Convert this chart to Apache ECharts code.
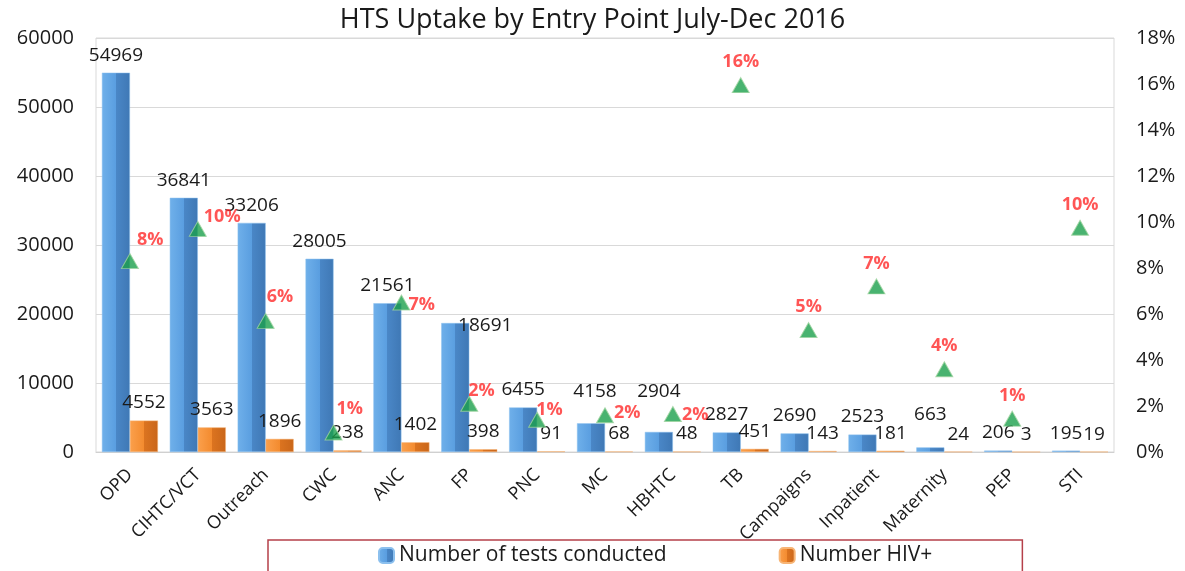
<!DOCTYPE html>
<html>
<head>
<meta charset="utf-8">
<script src="https://cdn.jsdelivr.net/npm/echarts@6/dist/echarts.min.js"></script>
<style>
html,body{margin:0;padding:0;background:#fff;}
#chart{width:1185px;height:571px;}
</style>
</head>
<body>
<div id="chart"></div>
<script>
var categories = ['OPD','CIHTC/VCT','Outreach','CWC','ANC','FP','PNC','MC','HBHTC','TB','Campaigns','Inpatient','Maternity','PEP','STI'];
var testsConducted = [54969, 36841, 33206, 28005, 21561, 18691, 6455, 4158, 2904, 2827, 2690, 2523, 663, 206, 195];
var numberHivPos = [4552, 3563, 1896, 238, 1402, 398, 91, 68, 48, 451, 143, 181, 24, 3, 19];
var positivityPct = [8.3, 9.7, 5.7, 0.85, 6.5, 2.1, 1.4, 1.6, 1.65, 15.95, 5.3, 7.2, 3.6, 1.45, 9.75];
var leftTicks = {min: 0, max: 60000, interval: 10000};
var rightTicks = {min: 0, max: 18, interval: 2};

var FONT = "'Open Sans', 'Noto Sans', sans-serif";

// label placement for the percentage markers (layout only): [dx, dy] from 'right', or null = 'top'
var pctNudge = [[-2, -21], [-3, -12], [-8, -24], [-6, -24], [-2, 2], [-10, -13], [-10, -10], [0, -2], [0, 1],
                null, null, null, null, null, null];
// manual label nudges for the tests-conducted labels (layout only), index -> [dx, dy]
var testsLabelNudge = {5: [30, 20], 7: [4, -14], 8: [0, -23], 12: [0, -15]};

function pctData() {
  return positivityPct.map(function (v, i) {
    var n = pctNudge[i];
    var lab = n ? {position: 'right', distance: 0, offset: n} : {position: 'top', distance: 6};
    return {value: v, label: lab};
  });
}
function testsData() {
  return testsConducted.map(function (v, i) {
    var n = testsLabelNudge[i];
    return n ? {value: v, label: {offset: n}} : v;
  });
}

var blueGrad = new echarts.graphic.LinearGradient(0, 0, 1, 0, [
  {offset: 0, color: '#6fb0ea'}, {offset: 0.5, color: '#5a9ee0'},
  {offset: 0.5, color: '#4a87c7'}, {offset: 1, color: '#3f78b5'}
]);
var orangeGrad = new echarts.graphic.LinearGradient(0, 0, 1, 0, [
  {offset: 0, color: '#fba04c'}, {offset: 0.5, color: '#f38b2f'},
  {offset: 0.5, color: '#dc7420'}, {offset: 1, color: '#c9661a'}
]);

var chart = echarts.init(document.getElementById('chart'));
chart.setOption({
  backgroundColor: '#ffffff',
  animation: false,
  textStyle: {fontFamily: FONT},
  title: {
    text: 'HTS Uptake by Entry Point July-Dec 2016',
    left: 'center', top: 2,
    textStyle: {fontFamily: FONT, fontSize: 27, fontWeight: 'normal', color: '#1a1a1a'}
  },
  legend: {
    data: ['Number of tests conducted', 'Number HIV+'],
    left: 268, top: 540,
    padding: [5, 90, 12, 110],
    itemGap: 112,
    itemWidth: 15, itemHeight: 15,
    borderColor: '#b5404a', borderWidth: 1.5,
    textStyle: {fontFamily: FONT, fontSize: 21, color: '#1a1a1a'}
  },
  grid: {left: 96, right: 71, top: 38, bottom: 119, show: true, borderColor: '#d9d9d9', borderWidth: 1},
  xAxis: {
    type: 'category',
    data: categories,
    axisLine: {show: true, lineStyle: {color: '#d0d0d0'}},
    axisTick: {show: false},
    axisLabel: {rotate: 45, interval: 0, fontSize: 18, color: '#1a1a1a', margin: 20, fontFamily: FONT}
  },
  yAxis: [
    {
      type: 'value', min: leftTicks.min, max: leftTicks.max, interval: leftTicks.interval,
      axisLine: {show: false}, axisTick: {show: false},
      axisLabel: {fontSize: 20, color: '#1a1a1a', margin: 22, fontFamily: FONT,
        formatter: function (v) { return String(v); }},
      splitLine: {lineStyle: {color: '#d9d9d9'}}
    },
    {
      type: 'value', min: rightTicks.min, max: rightTicks.max, interval: rightTicks.interval,
      axisLine: {show: false}, axisTick: {show: false},
      axisLabel: {fontSize: 20, color: '#1a1a1a', margin: 22, formatter: '{value}%', fontFamily: FONT},
      splitLine: {show: false}
    }
  ],
  series: [
    {
      name: 'Number of tests conducted', type: 'bar', data: testsData(),
      barWidth: 28, barGap: '0%',
      itemStyle: {color: blueGrad, borderColor: '#8cc0ee', borderWidth: 0.5},
      label: {show: true, position: 'top', distance: 8, fontSize: 19, color: '#1a1a1a', fontFamily: FONT}
    },
    {
      name: 'Number HIV+', type: 'bar', data: numberHivPos,
      barWidth: 28,
      itemStyle: {color: orangeGrad, borderColor: '#f7b576', borderWidth: 0.5},
      label: {show: true, position: 'top', distance: 8, fontSize: 19, color: '#1a1a1a', fontFamily: FONT}
    },
    {
      name: 'Positivity', type: 'scatter', yAxisIndex: 1, data: pctData(),
      symbol: 'triangle', symbolSize: [17, 15],
      itemStyle: {color: '#1ca04c', borderColor: '#9fd39f', borderWidth: 1},
      label: {
        show: true, fontSize: 18, fontWeight: 'bold', color: '#ff2a2a', fontFamily: FONT,
        formatter: function (p) { return Math.round(p.value) + '%'; }
      },
      z: 5
    }
  ]
});
</script>
</body>
</html>
